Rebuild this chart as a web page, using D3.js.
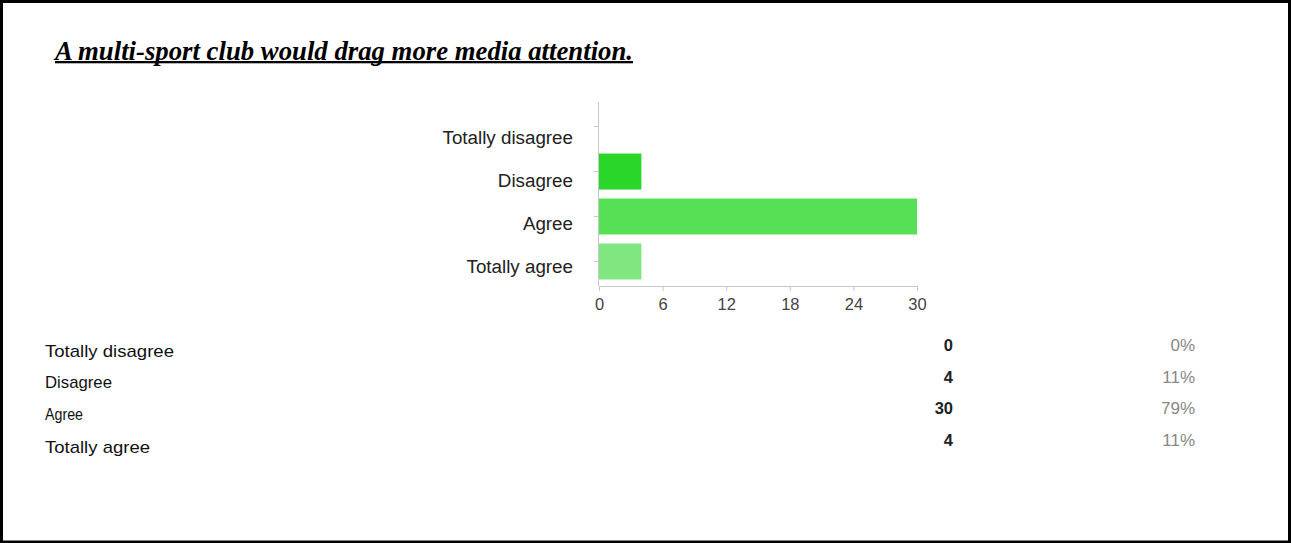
<!DOCTYPE html>
<html>
<head>
<meta charset="utf-8">
<script src="https://cdn.jsdelivr.net/npm/d3@7"></script>
<style>
  html, body { margin: 0; padding: 0; background: #fff; }
  svg { display: block; }
</style>
</head>
<body>
<svg id="chart" width="1291" height="543"></svg>
<script>
// Survey answers and response counts
const title = "A multi-sport club would drag more media attention.";
const categories = ["Totally disagree", "Disagree", "Agree", "Totally agree"];
const counts = [0, 4, 30, 4];
const percents = ["0%", "11%", "79%", "11%"];
const xTicks = [0, 6, 12, 18, 24, 30];
const barColors = ["#2bd62b", "#2bd62b", "#55e055", "#80e780"];

const svg = d3.select("#chart");
const W = 1291, H = 543;

// Page frame
svg.append("rect")
  .attr("x", 1.5).attr("y", 1.5)
  .attr("width", W - 3).attr("height", H - 2.5)
  .attr("fill", "#fff").attr("stroke", "#000").attr("stroke-width", 3);

// Heading, underlined
const titleWidth = 578;
svg.append("text")
  .attr("x", 55).attr("y", 60)
  .attr("textLength", titleWidth)
  .attr("lengthAdjust", "spacingAndGlyphs")
  .attr("font-family", "'Liberation Serif', 'Times New Roman', serif")
  .attr("font-weight", "bold").attr("font-style", "italic")
  .attr("font-size", 26.5).attr("fill", "#000")
  .text(title);
svg.append("rect").attr("x", 55).attr("y", 61).attr("width", titleWidth).attr("height", 2.3).attr("fill", "#000");

// Bar chart
const x = d3.scaleLinear().domain([0, 30]).range([599, 917]);
const y = d3.scaleBand().domain(categories).range([104, 284]).paddingInner(0.2).paddingOuter(0.1);
const axisColor = "#c8c8c8";

svg.append("g").selectAll("rect")
  .data(categories)
  .join("rect")
  .attr("x", x(0))
  .attr("y", d => y(d))
  .attr("width", (d, i) => x(counts[i]) - x(0))
  .attr("height", y.bandwidth())
  .attr("fill", (d, i) => barColors[i]);

// Category axis
const gy = svg.append("g").attr("transform", `translate(${x(0)},0)`)
  .call(d3.axisLeft(y).tickSize(5).tickSizeOuter(0).tickPadding(21));
gy.select(".domain").remove();
gy.selectAll(".tick line").attr("stroke", axisColor);
gy.selectAll(".tick text")
  .attr("y", (d, i) => 11 - 2 * i)
  .attr("font-family", "'Liberation Sans', Arial, sans-serif")
  .attr("font-size", 18.8).attr("fill", "#222");
svg.append("line")
  .attr("x1", x(0) - 0.5).attr("x2", x(0) - 0.5)
  .attr("y1", 102).attr("y2", 286)
  .attr("stroke", axisColor);

// Value axis
const gx = svg.append("g").attr("transform", "translate(0,286)")
  .call(d3.axisBottom(x).tickValues(xTicks).tickSize(5).tickSizeOuter(0).tickPadding(7));
gx.select(".domain").attr("stroke", axisColor);
gx.selectAll(".tick line").attr("stroke", axisColor);
gx.selectAll(".tick text")
  .attr("font-family", "'Liberation Sans', Arial, sans-serif")
  .attr("font-size", 16.5).attr("fill", "#444");

// Summary table
const labelBase = [357, 388, 420, 453];
const valueBase = [351, 383, 414, 446];
const labelWidths = [129, 67, 38, 105];

const rows = svg.append("g");
rows.selectAll("text.label")
  .data(categories)
  .join("text")
  .attr("class", "label")
  .attr("x", 45)
  .attr("y", (d, i) => labelBase[i])
  .attr("textLength", (d, i) => labelWidths[i])
  .attr("lengthAdjust", "spacingAndGlyphs")
  .attr("font-family", "'Liberation Sans', Arial, sans-serif")
  .attr("font-size", 17).attr("fill", "#111")
  .text(d => d);

rows.selectAll("text.count")
  .data(counts)
  .join("text")
  .attr("class", "count")
  .attr("x", 953)
  .attr("y", (d, i) => valueBase[i])
  .attr("text-anchor", "end")
  .attr("font-family", "'Liberation Sans', Arial, sans-serif")
  .attr("font-weight", "bold")
  .attr("font-size", 16.5).attr("fill", "#222")
  .text(d => d);

rows.selectAll("text.pct")
  .data(percents)
  .join("text")
  .attr("class", "pct")
  .attr("x", 1195)
  .attr("y", (d, i) => valueBase[i])
  .attr("text-anchor", "end")
  .attr("font-family", "'Liberation Sans', Arial, sans-serif")
  .attr("font-size", 17).attr("fill", "#888")
  .text(d => d);
</script>
</body>
</html>
